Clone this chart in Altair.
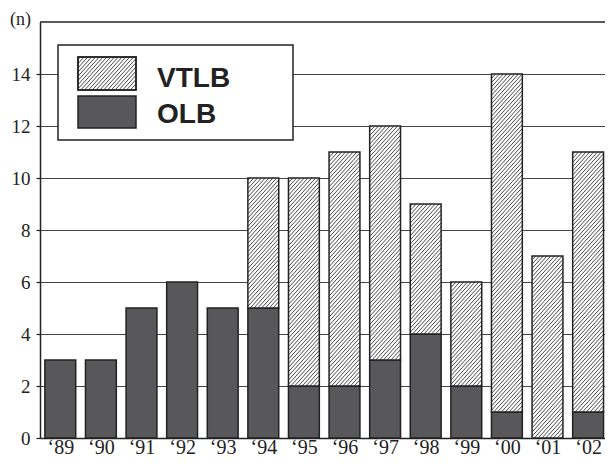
import json
import altair as alt
import pandas as pd

# ---- data ----
years = ["‘89", "‘90", "‘91", "‘92", "‘93", "‘94", "‘95",
         "‘96", "‘97", "‘98", "‘99", "‘00", "‘01", "‘02"]
olb = [3, 3, 5, 6, 5, 5, 2, 2, 3, 4, 2, 1, 0, 1]
vtlb = [0, 0, 0, 0, 0, 5, 8, 9, 9, 5, 4, 13, 7, 10]
legend_items = ["VTLB", "OLB"]
y_ticks = [0, 2, 4, 6, 8, 10, 12, 14]

df = pd.DataFrame({"year": years, "idx": list(range(len(years))),
                   "OLB": olb, "VTLB": vtlb})
leg = pd.DataFrame({"series": legend_items})

# ---- style ----
W_PLOT, H_PLOT = 565, 416
STEP = 40.6          # px per category
HALF = 0.38          # half bar width in band units
PX_PER_Y = H_PLOT / 16
S = 34 / PX_PER_Y    # hatch rise across one bar (y units)
D = 4.2 / PX_PER_Y   # hatch vertical spacing (y units)
DARK = "#58585a"
INK = "#222222"
SERIF = "Liberation Serif"

xs = alt.Scale(domain=[-0.5, -0.5 + W_PLOT / STEP], nice=False, zero=False)
ys = alt.Scale(domain=[0, 16], nice=False, zero=True)

label_expr = json.dumps(years, ensure_ascii=False) + "[datum.value]"
x_axis = alt.Axis(values=list(range(len(years))), labelExpr=label_expr,
                  title=None, ticks=False, tickSize=0, grid=False,
                  labelFlush=False, labelOverlap=False, labelFont=SERIF,
                  labelFontSize=20, labelColor=INK, labelPadding=15,
                  labelBaseline="alphabetic", domainColor=INK,
                  domainWidth=1.5)
y_axis = alt.Axis(values=y_ticks, title="(n)", titleAngle=0, titleX=-20,
                  titleY=2, titleAlign="center", titleBaseline="alphabetic",
                  titleFont=SERIF, titleFontSize=18, titleFontWeight="normal",
                  titleColor=INK, labelFont=SERIF, labelFontSize=19,
                  labelColor=INK, labelPadding=6, tickSize=4, tickColor=INK,
                  tickWidth=1.2, grid=True, gridColor="#444444", gridWidth=1.2,
                  domainColor=INK, domainWidth=1.5)


def X(f):
    return alt.X(f, type="quantitative", scale=xs, axis=x_axis)


def Y(f):
    return alt.Y(f, type="quantitative", scale=ys, axis=y_axis)


base = alt.Chart(df).transform_calculate(
    xl=f"datum.idx - {HALF}").transform_calculate(
    xr=f"datum.idx + {HALF}").transform_calculate(
    top="datum.OLB + datum.VTLB")

top_border = alt.Chart(leg).transform_filter("datum.series == 'VTLB'").mark_rule(
    color=INK, strokeWidth=1.5).encode(
    x=alt.value(0), x2=alt.value(W_PLOT), y=alt.value(0))

olb_bars = base.transform_filter("datum.OLB > 0").mark_rect(
    fill=DARK, stroke=INK, strokeWidth=1.5).encode(
    x=X("xl"), x2="xr", y=Y("OLB"), y2=alt.value(H_PLOT))

vt_fill = base.transform_filter("datum.VTLB > 0").mark_rect(
    fill="white").encode(x=X("xl"), x2="xr", y=Y("OLB"), y2="top")

hatch = (base.transform_filter("datum.VTLB > 0")
         .transform_calculate(lo="datum.OLB")
         .transform_calculate(hi="datum.OLB + datum.VTLB")
         .transform_calculate(ks=f"sequence(0, ceil((datum.hi - datum.lo + {S}) / {D}))")
         .transform_flatten(["ks"], as_=["k"])
         .transform_calculate(c=f"datum.lo - {S} + (datum.k + 0.5) * {D}")
         .transform_filter("datum.c < datum.hi")
         .transform_calculate(hx1=f"datum.xl + max(0, (datum.lo - datum.c) / {S}) * {2 * HALF}")
         .transform_calculate(hy1="max(datum.c, datum.lo)")
         .transform_calculate(hx2=f"datum.xl + min(1, (datum.hi - datum.c) / {S}) * {2 * HALF}")
         .transform_calculate(hy2=f"min(datum.c + {S}, datum.hi)")
         .mark_rule(color="#333333", strokeWidth=0.9)
         .encode(x=X("hx1"), x2="hx2", y=Y("hy1"), y2="hy2"))

vt_outline = base.transform_filter("datum.VTLB > 0").mark_rect(
    fill="white", fillOpacity=0, stroke=INK, strokeWidth=1.5).encode(
    x=X("xl"), x2="xr", y=Y("OLB"), y2="top")

# ---- legend (pixel positions inside the plot area) ----
LX0, LX1, LY0, LY1 = 18, 253, 23, 118
SW_L, SW_W = 38, 58
VT_T, VT_B = 35, 68
OL_T, OL_B = 74, 106
RP = 64.0   # hatch rise across swatch (px)
GP = 4.2    # hatch spacing (px)

one = alt.Chart(leg).transform_filter("datum.series == 'VTLB'")
leg_box = one.mark_rect(fill="white", stroke=INK, strokeWidth=1.5).encode(
    x=alt.value(LX0), x2=alt.value(LX1), y=alt.value(LY0), y2=alt.value(LY1))
leg_vt = one.mark_rect(fill="white", stroke=INK, strokeWidth=1.5).encode(
    x=alt.value(SW_L), x2=alt.value(SW_L + SW_W), y=alt.value(VT_T),
    y2=alt.value(VT_B))
leg_ol = one.mark_rect(fill=DARK, stroke=INK, strokeWidth=1.5).encode(
    x=alt.value(SW_L), x2=alt.value(SW_L + SW_W), y=alt.value(OL_T),
    y2=alt.value(OL_B))
HH = VT_B - VT_T
leg_hatch = (one
             .transform_calculate(ks=f"sequence(0, ceil(({HH} + {RP}) / {GP}))")
             .transform_flatten(["ks"], as_=["k"])
             .transform_calculate(c=f"-{RP} + (datum.k + 0.5) * {GP}")
             .transform_filter(f"datum.c < {HH}")
             .transform_calculate(px1=f"{SW_L} + max(0, -datum.c / {RP}) * {SW_W}")
             .transform_calculate(py1=f"{VT_B} - max(datum.c, 0)")
             .transform_calculate(px2=f"{SW_L} + min(1, ({HH} - datum.c) / {RP}) * {SW_W}")
             .transform_calculate(py2=f"{VT_B} - min(datum.c + {RP}, {HH})")
             .mark_rule(color="#333333", strokeWidth=0.9)
             .encode(x=alt.X("px1:Q", scale=None, axis=None), x2="px2",
                     y=alt.Y("py1:Q", scale=None, axis=None), y2="py2"))
leg_vt_outline = one.mark_rect(fill="white", fillOpacity=0, stroke=INK,
                               strokeWidth=1.5).encode(
    x=alt.value(SW_L), x2=alt.value(SW_L + SW_W), y=alt.value(VT_T),
    y2=alt.value(VT_B))
leg_text = (alt.Chart(leg)
            .transform_calculate(ty="datum.series == 'VTLB' ? 65 : 101")
            .mark_text(font="Liberation Sans", fontWeight="bold", fontSize=28,
                       color=INK, align="left", baseline="alphabetic")
            .encode(x=alt.value(117), y=alt.Y("ty:Q", scale=None, axis=None),
                    text="series:N"))

chart = alt.layer(
    top_border, olb_bars, vt_fill, hatch, vt_outline,
    leg_box, leg_vt, leg_hatch, leg_vt_outline, leg_ol, leg_text
).properties(
    width=W_PLOT, height=H_PLOT,
    autosize=alt.AutoSizeParams(type="none"),
    padding={"left": 32, "top": 14, "right": 0, "bottom": 20},
    background="white",
).configure_view(stroke=None)

chart.save("out.html", embed_options={"renderer": "svg", "actions": False})
